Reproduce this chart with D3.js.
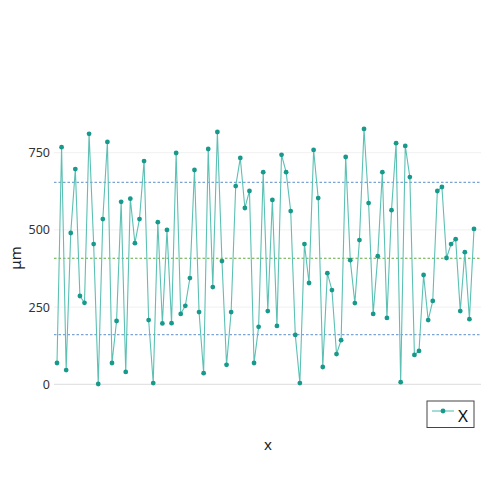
<!DOCTYPE html>
<html>
<head>
<meta charset="utf-8">
<script src="https://cdn.jsdelivr.net/npm/d3@7"></script>
<style>
  body { margin: 0; background: #fff; }
  text { font-family: "Noto Sans", sans-serif; }
</style>
</head>
<body>
<div id="chart"></div>
<script>
// values, one per x step
var values = [69, 768, 46, 490, 697, 286, 264, 811, 454, 1,
  535, 785, 69, 205, 591, 40, 601, 457, 535, 723,
  208, 4, 525, 197, 500, 198, 749, 228, 254, 344,
  694, 234, 36, 762, 315, 817, 399, 63, 234, 642,
  733, 571, 626, 69, 186, 687, 237, 597, 189, 743,
  687, 561, 160, 4, 454, 328, 759, 603, 56, 360,
  305, 98, 143, 736, 402, 263, 467, 827, 587, 228,
  415, 687, 215, 564, 781, 7, 772, 671, 95, 108,
  354, 208, 270, 626, 639, 409, 454, 470, 237, 428,
  211, 503];
var yTicks = [0, 250, 500, 750];
// mean and mean +/- sd lines
var refLines = [161, 408, 654];
var refColors = ["#7ba3d4", "#62a83e", "#7ba3d4"];
var seriesName = "X";
var xLabel = "x";
var yLabel = "μm";

var width = 495, height = 495;
var svg = d3.select("#chart").append("svg")
  .attr("width", width).attr("height", height);

var plotLeft = 54, plotRight = 481;
var x = d3.scaleLinear().domain([1, values.length]).range([57, 474]);
var y = d3.scaleLinear().domain([0, 750]).range([384.3, 152.7]);

// grid
svg.append("g").selectAll("line").data(yTicks).enter().append("line")
  .attr("x1", plotLeft).attr("x2", plotRight)
  .attr("y1", function(d) { return y(d); }).attr("y2", function(d) { return y(d); })
  .attr("stroke", function(d) { return d === 0 ? "#dcdcdc" : "#f0f0f0"; })
  .attr("stroke-width", 1);

// y axis labels
var yAxis = d3.axisLeft(y).tickValues(yTicks).tickSize(0).tickPadding(4);
var ga = svg.append("g").attr("transform", "translate(" + plotLeft + ",0)").call(yAxis);
ga.select(".domain").remove();
ga.selectAll("text").attr("font-size", "12.5px").attr("fill", "#333")
  .attr("font-family", "Noto Sans");

// reference lines
svg.append("g").selectAll("line").data(refLines).enter().append("line")
  .attr("x1", plotLeft).attr("x2", plotRight)
  .attr("y1", function(d) { return y(d); }).attr("y2", function(d) { return y(d); })
  .attr("stroke", function(d, i) { return refColors[i]; })
  .attr("stroke-width", 1.1)
  .attr("stroke-dasharray", "2.5,2");

// series
var line = d3.line()
  .x(function(d, i) { return x(i + 1); })
  .y(function(d) { return y(d); });
svg.append("path").datum(values)
  .attr("d", line)
  .attr("fill", "none")
  .attr("stroke", "#5cc0b4")
  .attr("stroke-width", 1.1);
svg.append("g").selectAll("circle").data(values).enter().append("circle")
  .attr("cx", function(d, i) { return x(i + 1); })
  .attr("cy", function(d) { return y(d); })
  .attr("r", 2.4)
  .attr("fill", "#17998b");

// axis titles
svg.append("text").attr("x", 268).attr("y", 450)
  .attr("text-anchor", "middle").attr("font-size", "15px").attr("fill", "#222")
  .text(xLabel);
svg.append("text")
  .attr("transform", "translate(21,258) rotate(-90)")
  .attr("text-anchor", "middle").attr("font-size", "15px").attr("fill", "#222")
  .text(yLabel);

// legend
var lg = svg.append("g").attr("transform", "translate(427,401)");
lg.append("rect").attr("width", 47).attr("height", 26.5)
  .attr("fill", "#fff").attr("stroke", "#444").attr("stroke-width", 1);
lg.append("line").attr("x1", 5).attr("x2", 27).attr("y1", 10).attr("y2", 10)
  .attr("stroke", "#5cc0b4").attr("stroke-width", 1.1);
lg.append("circle").attr("cx", 16).attr("cy", 10).attr("r", 2.4).attr("fill", "#17998b");
lg.append("text").attr("x", 31).attr("y", 21)
  .attr("font-size", "17px").attr("fill", "#111").text(seriesName);
</script>
</body>
</html>
